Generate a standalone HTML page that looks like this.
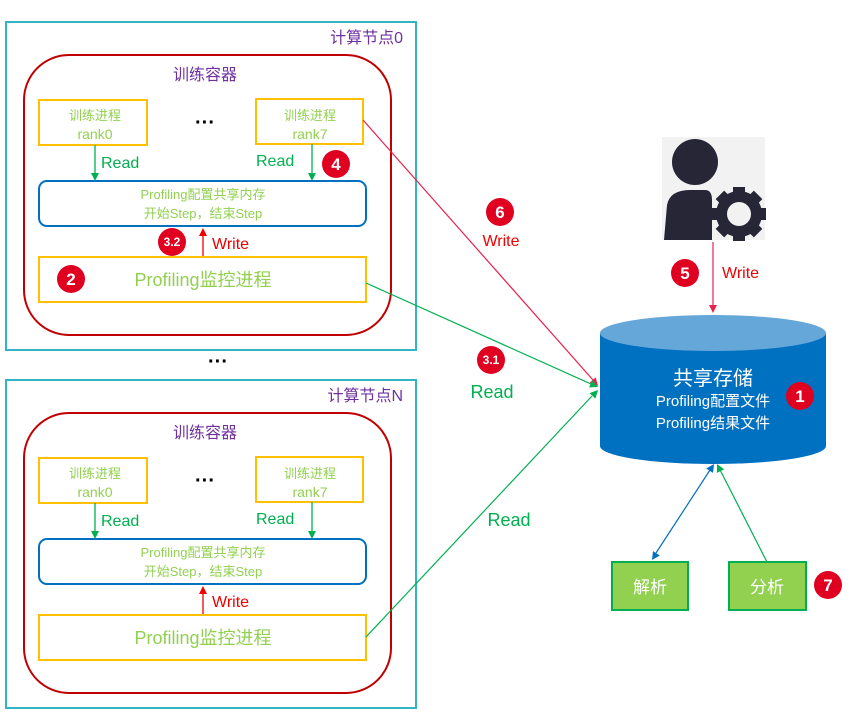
<!DOCTYPE html>
<html><head><meta charset="utf-8"><style>
body{margin:0;background:#fff}
svg{display:block;font-family:"Liberation Sans","Noto Sans CJK SC",sans-serif}
</style></head><body>
<svg width="865" height="717" viewBox="0 0 865 717" xmlns="http://www.w3.org/2000/svg">
<g>
<rect x="24" y="55" width="367" height="280" rx="45" fill="none" stroke="#c00000" stroke-width="2"/>
<text x="205" y="80" font-size="16" fill="#7030a0" text-anchor="middle">训练容器</text>
<rect x="39" y="100" width="108" height="45" fill="none" stroke="#ffc000" stroke-width="2"/>
<text x="95" y="120" font-size="13" fill="#92d050" text-anchor="middle">训练进程</text>
<text x="95" y="139" font-size="14" fill="#92d050" text-anchor="middle">rank0</text>
<rect x="256" y="99" width="107" height="45" fill="none" stroke="#ffc000" stroke-width="2"/>
<text x="310" y="120" font-size="13" fill="#92d050" text-anchor="middle">训练进程</text>
<text x="310" y="139" font-size="14" fill="#92d050" text-anchor="middle">rank7</text>
<text x="205" y="129" font-size="20" fill="#000" text-anchor="middle" font-weight="bold">···</text>
<line x1="95" y1="145" x2="95" y2="174" stroke="#00b050" stroke-width="1.3"/>
<polygon points="91,173 99,173 95,181" fill="#00b050"/>
<text x="101" y="168" font-size="16" fill="#00b050">Read</text>
<line x1="312" y1="144" x2="312" y2="174" stroke="#00b050" stroke-width="1.3"/>
<polygon points="308,173 316,173 312,181" fill="#00b050"/>
<text x="256" y="166" font-size="16" fill="#00b050">Read</text>
<rect x="39" y="181" width="327" height="45" rx="8" fill="none" stroke="#0070c0" stroke-width="2"/>
<text x="203" y="199" font-size="13" fill="#92d050" text-anchor="middle">Profiling配置共享内存</text>
<text x="203" y="218" font-size="13" fill="#92d050" text-anchor="middle">开始Step，结束Step</text>
<line x1="203" y1="257" x2="203" y2="234" stroke="#ee0000" stroke-width="1.3"/>
<polygon points="199,236 207,236 203,228" fill="#ee0000"/>
<text x="212" y="249" font-size="16" fill="#ee0000">Write</text>
<rect x="39" y="257" width="327" height="45" fill="none" stroke="#ffc000" stroke-width="2"/>
<text x="203" y="286" font-size="18" fill="#92d050" text-anchor="middle">Profiling监控进程</text>
</g>
<g transform="translate(0,358)">
<rect x="24" y="55" width="367" height="280" rx="45" fill="none" stroke="#c00000" stroke-width="2"/>
<text x="205" y="80" font-size="16" fill="#7030a0" text-anchor="middle">训练容器</text>
<rect x="39" y="100" width="108" height="45" fill="none" stroke="#ffc000" stroke-width="2"/>
<text x="95" y="120" font-size="13" fill="#92d050" text-anchor="middle">训练进程</text>
<text x="95" y="139" font-size="14" fill="#92d050" text-anchor="middle">rank0</text>
<rect x="256" y="99" width="107" height="45" fill="none" stroke="#ffc000" stroke-width="2"/>
<text x="310" y="120" font-size="13" fill="#92d050" text-anchor="middle">训练进程</text>
<text x="310" y="139" font-size="14" fill="#92d050" text-anchor="middle">rank7</text>
<text x="205" y="129" font-size="20" fill="#000" text-anchor="middle" font-weight="bold">···</text>
<line x1="95" y1="145" x2="95" y2="174" stroke="#00b050" stroke-width="1.3"/>
<polygon points="91,173 99,173 95,181" fill="#00b050"/>
<text x="101" y="168" font-size="16" fill="#00b050">Read</text>
<line x1="312" y1="144" x2="312" y2="174" stroke="#00b050" stroke-width="1.3"/>
<polygon points="308,173 316,173 312,181" fill="#00b050"/>
<text x="256" y="166" font-size="16" fill="#00b050">Read</text>
<rect x="39" y="181" width="327" height="45" rx="8" fill="none" stroke="#0070c0" stroke-width="2"/>
<text x="203" y="199" font-size="13" fill="#92d050" text-anchor="middle">Profiling配置共享内存</text>
<text x="203" y="218" font-size="13" fill="#92d050" text-anchor="middle">开始Step，结束Step</text>
<line x1="203" y1="257" x2="203" y2="234" stroke="#ee0000" stroke-width="1.3"/>
<polygon points="199,236 207,236 203,228" fill="#ee0000"/>
<text x="212" y="249" font-size="16" fill="#ee0000">Write</text>
<rect x="39" y="257" width="327" height="45" fill="none" stroke="#ffc000" stroke-width="2"/>
<text x="203" y="286" font-size="18" fill="#92d050" text-anchor="middle">Profiling监控进程</text>
</g>
<rect x="6" y="22" width="410" height="328" fill="none" stroke="#31b4c6" stroke-width="2"/>
<text x="403" y="43" font-size="16" fill="#7030a0" text-anchor="end">计算节点0</text>
<rect x="6" y="380" width="410" height="328" fill="none" stroke="#31b4c6" stroke-width="2"/>
<text x="403" y="401" font-size="16" fill="#7030a0" text-anchor="end">计算节点N</text>
<text x="218" y="368" font-size="20" fill="#000" text-anchor="middle" font-weight="bold">···</text>

<line x1="363" y1="120" x2="593" y2="380" stroke="#e8204a" stroke-width="1.2"/>
<polygon points="598,386 589.7,382.6 595.7,377.4" fill="#e8204a"/>
<text x="501" y="246" font-size="16" fill="#ee0000" text-anchor="middle">Write</text>
<line x1="366" y1="283" x2="591" y2="384" stroke="#00b050" stroke-width="1.2"/>
<polygon points="598,387 589.1,387.4 592.3,380" fill="#00b050"/>
<text x="492" y="398" font-size="18" fill="#00b050" text-anchor="middle">Read</text>
<line x1="366" y1="637" x2="592" y2="396" stroke="#00b050" stroke-width="1.2"/>
<polygon points="598,390 595.4,398.6 589.6,393.1" fill="#00b050"/>
<text x="509" y="526" font-size="18" fill="#00b050" text-anchor="middle">Read</text>

<rect x="662" y="137" width="103" height="103" fill="#f2f2f2"/>
<circle cx="695" cy="162" r="23" fill="#262636"/>
<path d="M664,240 L667,205 Q670,190 690,190 L705,190 Q712,190 712,200 L712,240z" fill="#262636"/>
<g transform="translate(739,214)">
<circle r="23" fill="#262636"/>
<rect x="-6" y="-27" width="12" height="54" fill="#262636"/>
<rect x="-27" y="-6" width="54" height="12" fill="#262636"/>
<rect x="-6" y="-27" width="12" height="54" fill="#262636" transform="rotate(45)"/>
<rect x="-6" y="-27" width="12" height="54" fill="#262636" transform="rotate(-45)"/>
<circle r="12" fill="#f2f2f2"/>
</g>
<line x1="713" y1="242" x2="713" y2="306" stroke="#e8204a" stroke-width="1.2"/>
<polygon points="709,305 717,305 713,313" fill="#e8204a"/>
<text x="722" y="278" font-size="16" fill="#ee0000">Write</text>

<path d="M600,333 L600,446 A113,18 0 0 0 826,446 L826,333z" fill="#0070c0"/>
<ellipse cx="713" cy="333" rx="113" ry="18" fill="#65a7d9"/>
<text x="713" y="385" font-size="20" fill="#fff" text-anchor="middle">共享存储</text>
<text x="713" y="406" font-size="15" fill="#fff" text-anchor="middle">Profiling配置文件</text>
<text x="713" y="428" font-size="15" fill="#fff" text-anchor="middle">Profiling结果文件</text>

<line x1="656" y1="553" x2="710" y2="470" stroke="#0070c0" stroke-width="1.2"/>
<polygon points="714,464 713,472.9 706.2,468.5" fill="#0070c0"/>
<polygon points="652,560 659.8,555.5 653,551.1" fill="#0070c0"/>
<line x1="767" y1="562" x2="720.6" y2="471" stroke="#00b050" stroke-width="1.2"/>
<polygon points="717,464 724.2,469.3 717,472.9" fill="#00b050"/>
<rect x="612" y="562" width="76" height="48" fill="#92d050" stroke="#00b050" stroke-width="2"/>
<text x="650" y="593" font-size="17" fill="#fff" text-anchor="middle">解析</text>
<rect x="729" y="562" width="77" height="48" fill="#92d050" stroke="#00b050" stroke-width="2"/>
<text x="767" y="593" font-size="17" fill="#fff" text-anchor="middle">分析</text>

<g font-size="17" fill="#fff" text-anchor="middle" font-weight="bold">
<circle cx="336" cy="164" r="14" fill="#e00020"/><text x="336" y="170">4</text>
<circle cx="172" cy="242" r="14" fill="#e00020"/><text x="172" y="246" font-size="12">3.2</text>
<circle cx="71" cy="279" r="14" fill="#e00020"/><text x="71" y="285">2</text>
<circle cx="500" cy="212" r="14" fill="#e00020"/><text x="500" y="218">6</text>
<circle cx="491" cy="360" r="14" fill="#e00020"/><text x="491" y="364" font-size="12">3.1</text>
<circle cx="685" cy="273" r="14" fill="#e00020"/><text x="685" y="279">5</text>
<circle cx="800" cy="396" r="14" fill="#e00020"/><text x="800" y="402">1</text>
<circle cx="828" cy="585" r="14" fill="#e00020"/><text x="828" y="591">7</text>
</g>
</svg>
</body></html>
